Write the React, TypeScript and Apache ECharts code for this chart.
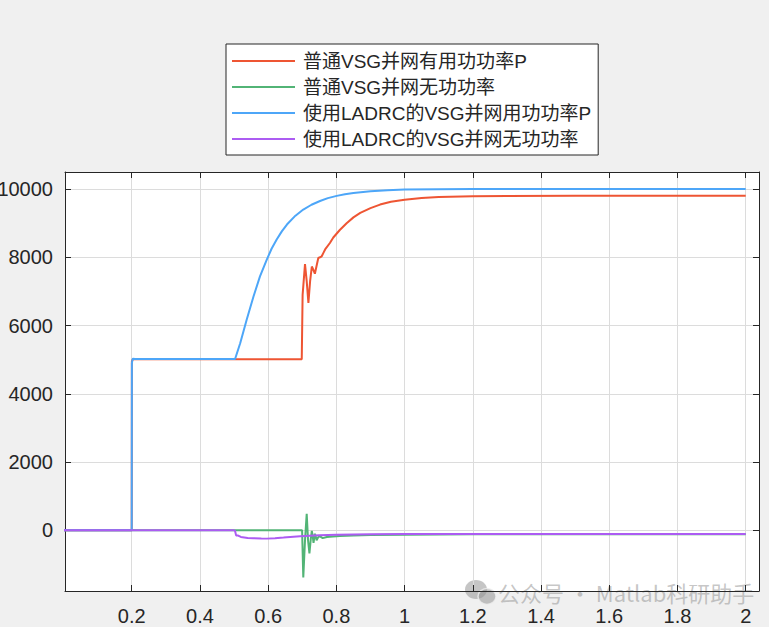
import React, { useEffect, useRef } from "react";
import * as echarts from "echarts";

const seriesNames = [
  "普通VSG并网有用功功率P",
  "普通VSG并网无功功率",
  "使用LADRC的VSG并网用功功率P",
  "使用LADRC的VSG并网无功功率",
];

const tRed = [0, 0.2, 0.2005, 0.203, 0.5, 0.6985, 0.701, 0.708, 0.713, 0.718, 0.723, 0.728, 0.733, 0.737, 0.742, 0.747, 0.752, 0.757, 0.762, 0.767, 0.781, 0.791, 0.81, 0.83, 0.85, 0.87, 0.9, 0.928, 0.96, 1.0, 1.05, 1.1, 1.2, 1.3, 1.5, 1.7, 2.0];
const vRed = [0, 0, 4950, 5010, 5010, 5010, 6900, 7800, 7300, 6660, 7300, 7730, 7620, 7520, 7750, 7980, 8000, 8030, 8130, 8230, 8420, 8580, 8800, 9000, 9170, 9300, 9440, 9545, 9630, 9690, 9740, 9770, 9790, 9800, 9805, 9805, 9805];

const tGreen = [0, 0.5, 0.6995, 0.7005, 0.703, 0.708, 0.713, 0.717, 0.721, 0.725, 0.728, 0.731, 0.733, 0.737, 0.74, 0.742, 0.747, 0.752, 0.76, 0.772, 0.79, 0.81, 0.85, 0.9, 1.0, 1.2, 1.5, 2.0];
const vGreen = [0, 0, 0, -400, -1380, -300, 480, -300, -680, -250, -20, -200, -370, -100, -200, -290, -200, -180, -230, -200, -185, -170, -150, -140, -128, -118, -115, -115];

const tBlue = [0, 0.2, 0.2005, 0.203, 0.21, 0.503, 0.518, 0.537, 0.557, 0.576, 0.596, 0.61, 0.625, 0.64, 0.655, 0.68, 0.703, 0.727, 0.752, 0.775, 0.801, 0.825, 0.85, 0.9, 0.95, 1.0, 1.1, 1.2, 1.5, 2.0];
const vBlue = [0, 0, 4900, 5030, 5020, 5020, 5480, 6170, 6850, 7440, 7930, 8250, 8520, 8760, 8960, 9220, 9400, 9540, 9650, 9735, 9800, 9850, 9885, 9935, 9965, 9985, 9995, 10000, 10000, 10000];

const tPurple = [0, 0.5, 0.503, 0.506, 0.512, 0.52, 0.54, 0.557, 0.58, 0.596, 0.62, 0.645, 0.694, 0.75, 0.8, 0.9, 1.0, 1.2, 1.5, 2.0];
const vPurple = [0, 0, -20, -150, -155, -195, -225, -235, -243, -245, -232, -215, -178, -148, -130, -118, -112, -110, -110, -110];

const seriesColors = ["#ee5533", "#52b476", "#4da6f8", "#ac5cf2"];

const xMin = 0.0044;
const xMax = 2.039;
const yMin = -1780;
const yMax = 10500;
const xStep = 0.2;
const yStep = 2000;

const watermarkText = "公众号 · Matlab科研助手";

function pairs(t: number[], v: number[]) {
  return t.map((x, i) => [x, v[i]]);
}

export default function App() {
  const ref = useRef<HTMLDivElement>(null);
  useEffect(() => {
    if (!ref.current) return;
    const chart = echarts.init(ref.current, undefined, { renderer: "svg" });
    const axisColor = "#262626";
    const font = "'Liberation Sans', Arial, 'Noto Sans CJK SC', sans-serif";
    const xLabel = (v: number) => {
      const k = v / xStep;
      if (Math.abs(k - Math.round(k)) > 1e-6 || v < 0.01) return "";
      return String(Math.round(v * 10) / 10);
    };
    const yLabel = (v: number) => (Math.abs(v % yStep) < 1e-6 ? String(v) : "");
    const baseX = {
      type: "value",
      min: xMin,
      max: xMax,
      minInterval: xStep,
      maxInterval: xStep,
      axisLine: { show: true, onZero: false, lineStyle: { color: axisColor, width: 1 } },
      axisTick: { show: true, inside: true, length: 6, lineStyle: { color: axisColor } },
    };
    const baseY = {
      type: "value",
      min: yMin,
      max: yMax,
      minInterval: yStep,
      maxInterval: yStep,
      axisLine: { show: true, onZero: false, lineStyle: { color: axisColor, width: 1 } },
      axisTick: { show: true, inside: true, length: 6, lineStyle: { color: axisColor } },
    };
    const data = [pairs(tRed, vRed), pairs(tGreen, vGreen), pairs(tBlue, vBlue), pairs(tPurple, vPurple)];
    chart.setOption({
      animation: false,
      backgroundColor: "#f0f0f0",
      grid: {
        left: 65,
        top: 172,
        right: 10,
        bottom: 36,
        containLabel: false,
        outerBoundsMode: "none",
        show: true,
        backgroundColor: "#ffffff",
        borderWidth: 0,
      },
      xAxis: [
        {
          ...baseX,
          position: "bottom",
          axisLabel: {
            show: true,
            margin: 15,
            fontSize: 20,
            color: axisColor,
            fontFamily: font,
            showMinLabel: false,
            showMaxLabel: false,
            formatter: xLabel,
          },
          splitLine: { show: true, showMinLine: false, showMaxLine: false, lineStyle: { color: "#dcdcdc", width: 1 } },
        },
        {
          ...baseX,
          position: "top",
          axisLabel: { show: false },
          splitLine: { show: false },
        },
      ],
      yAxis: [
        {
          ...baseY,
          position: "left",
          axisLabel: {
            show: true,
            margin: 12,
            fontSize: 20,
            color: axisColor,
            fontFamily: font,
            showMinLabel: false,
            showMaxLabel: false,
            formatter: yLabel,
          },
          splitLine: { show: true, showMinLine: false, showMaxLine: false, lineStyle: { color: "#dcdcdc", width: 1 } },
        },
        {
          ...baseY,
          position: "right",
          axisLabel: { show: false },
          splitLine: { show: false },
        },
      ],
      legend: {
        show: true,
        orient: "vertical",
        left: 226,
        top: 44,
        padding: [4, 7, 3, 6],
        itemGap: 0,
        icon: "rect",
        itemWidth: 63,
        itemHeight: 2,
        backgroundColor: "#ffffff",
        borderColor: axisColor,
        borderWidth: 1,
        borderRadius: 0,
        data: seriesNames,
        textStyle: {
          fontSize: 19,
          lineHeight: 26,
          color: axisColor,
          fontFamily: font,
          padding: [0, 0, 0, 3],
        },
      },
      series: data.map((d, i) => ({
        name: seriesNames[i],
        type: "line",
        xAxisIndex: 0,
        yAxisIndex: 0,
        data: d,
        symbol: "none",
        showSymbol: false,
        smooth: false,
        clip: true,
        color: seriesColors[i],
        lineStyle: { color: seriesColors[i], width: 2 },
        z: 2 + i,
      })),
      graphic: [
        {
          type: "group",
          left: 465,
          top: 580,
          z: 100,
          children: [
            { type: "ellipse", shape: { cx: 11, cy: 11, rx: 11, ry: 9.5 }, style: { fill: "rgba(150,150,150,0.55)" } },
            { type: "ellipse", shape: { cx: 22, cy: 18, rx: 9, ry: 8 }, style: { fill: "rgba(150,150,150,0.55)", stroke: "rgba(240,240,240,0.8)", lineWidth: 1.5 } },
            {
              type: "text",
              x: 33,
              y: 13,
              style: {
                text: watermarkText,
                fontSize: 22,
                fontFamily: "'Noto Sans CJK SC', sans-serif",
                fill: "rgba(150,150,150,0.55)",
                verticalAlign: "middle",
              },
            },
          ],
        },
      ],
    });
    return () => chart.dispose();
  }, []);
  return (
    <div
      ref={ref}
      style={{ position: "fixed", left: 0, top: 0, width: 769, height: 627 }}
    />
  );
}
